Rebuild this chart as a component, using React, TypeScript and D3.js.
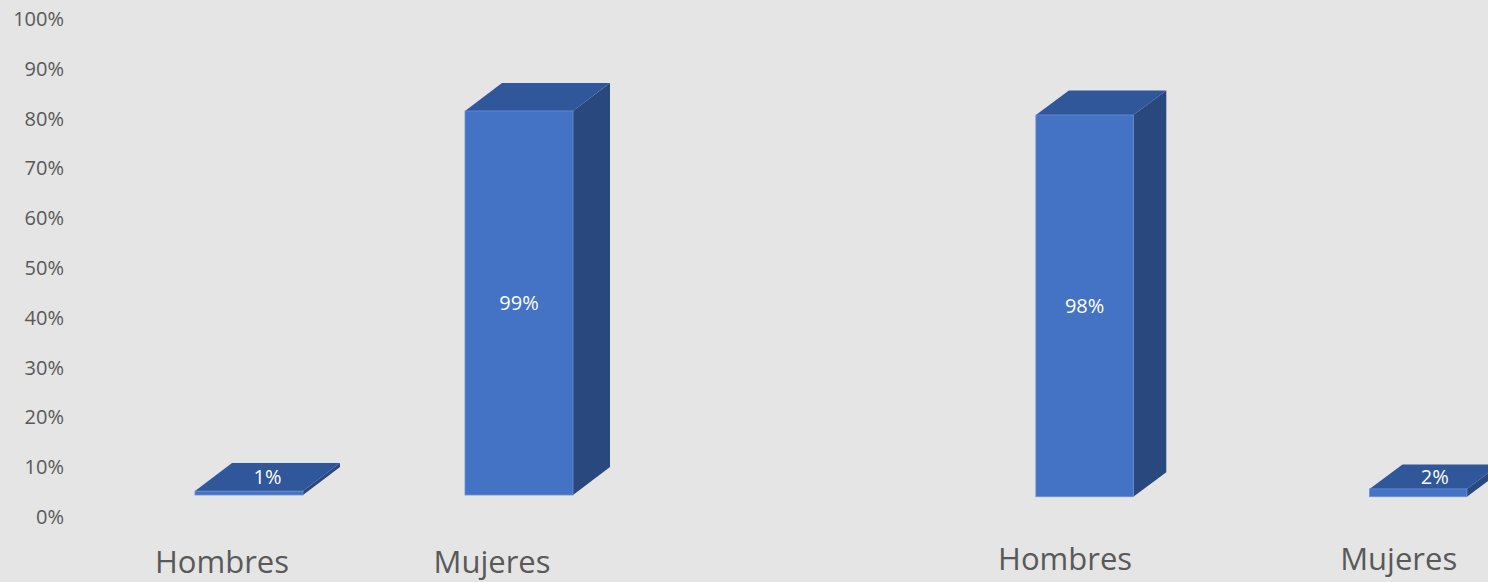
import React from 'react';
import { scaleBand, scaleLinear, range as d3range } from 'd3';

// chart values
const categories = ['Hombres', 'Mujeres', 'Hombres', 'Mujeres'];
const panelOf = [0, 0, 1, 1];
const values = [1, 99, 98, 2];
const valueLabels = ['1%', '99%', '98%', '2%'];
const axisTicks = [0, 10, 20, 30, 40, 50, 60, 70, 80, 90, 100];

// two side-by-side 3D panels, each with its own perspective
const panels = [
  { xRange: [114, 654], padInner: 0.6, padOuter: 0.3, yRange: [495, 107.1], dx: 37, dy: 28, labelShift: -27, labelY: 573 },
  { xRange: [935.8, 1567], padInner: 0.708, padOuter: 0.3, yRange: [496.7, 107.2], dx: 33, dy: 24.5, labelShift: -19.5, labelY: 570 }
];

const W = 1488;
const H = 582;
const FONT = '"Open Sans", "DejaVu Sans", sans-serif';

const FRONT = '#4472c4';
const TOP = '#30579a';
const SIDE = '#29487e';

export default function App() {
  // back wall axis
  const yAxis = scaleLinear().domain([0, 100]).range([517, 19]);

  const bars = d3range(values.length).map(i => {
    const p = panels[panelOf[i]];
    const idx = d3range(values.length).filter(j => panelOf[j] === panelOf[i]);
    const x = scaleBand<number>()
      .domain(idx)
      .range(p.xRange as [number, number])
      .paddingInner(p.padInner)
      .paddingOuter(p.padOuter);
    const y = scaleLinear().domain([0, 100]).range(p.yRange);
    const x0 = x(i) as number;
    const w = x.bandwidth();
    const yTop = y(values[i]);
    const yBot = y(0);
    return { i, p, x0, w, yTop, yBot };
  });

  return (
    <svg
      width={W}
      height={H}
      style={{ position: 'absolute', left: 0, top: 0, display: 'block' }}
      fontFamily={FONT}
    >
      <rect x={0} y={0} width={W} height={H} fill="#e5e5e5" />

      {/* y axis labels */}
      {axisTicks.map(t => (
        <text
          key={t}
          x={64}
          y={yAxis(t)}
          dy="0.35em"
          textAnchor="end"
          fontSize={20}
          fill="#595959"
        >
          {t + '%'}
        </text>
      ))}

      {/* bars */}
      {bars.map(({ i, p, x0, w, yTop, yBot }) => {
        const { dx, dy } = p;
        const top = `${x0},${yTop} ${x0 + dx},${yTop - dy} ${x0 + w + dx},${yTop - dy} ${x0 + w},${yTop}`;
        const side = `${x0 + w},${yTop} ${x0 + w + dx},${yTop - dy} ${x0 + w + dx},${yBot - dy} ${x0 + w},${yBot}`;
        const small = yBot - yTop < 20;
        const lx = small ? x0 + w / 2 + dx / 2 : x0 + w / 2;
        const ly = small ? yTop - dy / 2 : (yTop + yBot) / 2;
        return (
          <g key={i}>
            <polygon points={side} fill={SIDE} />
            <polygon points={top} fill={TOP} />
            <rect
              x={x0}
              y={yTop}
              width={w}
              height={yBot - yTop}
              fill={FRONT}
              stroke="#6b8fd4"
              strokeWidth={0.8}
            />
            <text
              x={lx}
              y={ly}
              dy="0.35em"
              textAnchor="middle"
              fontSize={20}
              fill="#ffffff"
            >
              {valueLabels[i]}
            </text>
            <text
              x={x0 + w / 2 + p.labelShift}
              y={p.labelY}
              textAnchor="middle"
              fontSize={31}
              fill="#595959"
            >
              {categories[i]}
            </text>
          </g>
        );
      })}
    </svg>
  );
}
